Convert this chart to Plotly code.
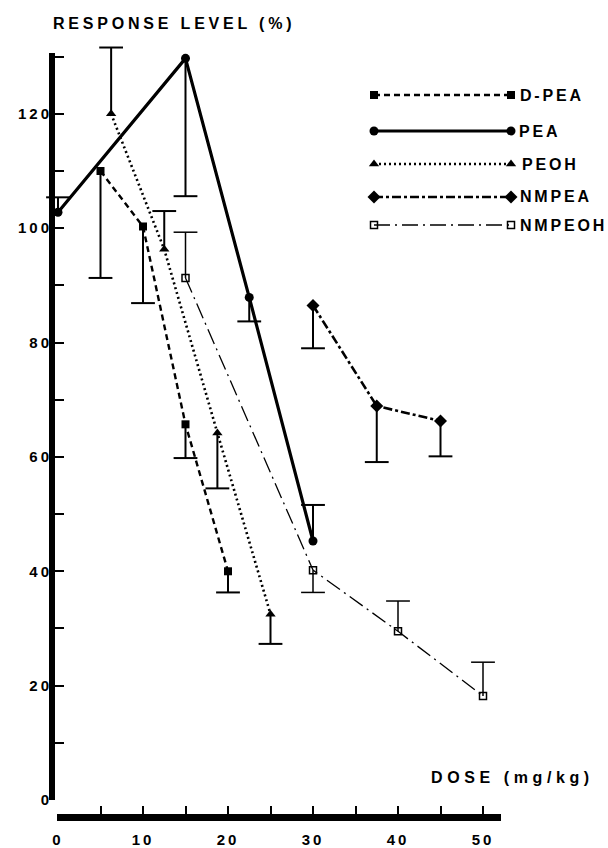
import plotly.graph_objects as go

# ---------------- data ----------------
series_names = ["D-PEA", "PEA", "PEOH", "NMPEA", "NMPEOH"]

dpea_dose = [5, 10, 15, 20]
dpea_resp = [110, 100.3, 65.7, 40]
dpea_err_up = [0, 0, 0, 0]
dpea_err_down = [18.7, 13.4, 5.9, 3.7]

pea_dose = [0, 15, 22.5, 30]
pea_resp = [102.8, 129.7, 87.9, 45.3]
pea_err_up = [2.6, 0, 0, 6.3]
pea_err_down = [0, 24.1, 4.2, 0]

peoh_dose = [6.25, 12.5, 18.75, 25]
peoh_resp = [120, 96.3, 64.2, 32.5]
peoh_err_up = [11.6, 6.7, 0, 0]
peoh_err_down = [0, 0, 9.7, 5.2]

nmpea_dose = [30, 37.5, 45]
nmpea_resp = [86.5, 68.9, 66.3]
nmpea_err_up = [0, 0, 0]
nmpea_err_down = [7.5, 9.8, 6.2]

nmpeoh_dose = [15, 30, 40, 50]
nmpeoh_resp = [91.3, 40.2, 29.5, 18.2]
nmpeoh_err_up = [8.0, 0, 5.3, 5.9]
nmpeoh_err_down = [0, 3.9, 0, 0]

x_tick_vals = [0, 10, 20, 30, 40, 50]
y_tick_vals = [0, 20, 40, 60, 80, 100, 120]

# ---------------- styles / layout constants ----------------
W, H = 608, 848
FONT = "Liberation Sans, Arial, sans-serif"
Y_PX_PER_UNIT = 5.718
Y0_PX = 800          # pixel row of response 0
Y_MAX = 132          # data range top (room for the tallest error cap)
YLINE_TOP_PX = 53    # the drawn axis bar stops here

def ls(txt, sp):
    return f'<span style="letter-spacing:{sp}px">{txt}</span>'

styles = {
    "D-PEA": dict(line=dict(color="black", width=2.4, dash="6px,4px"),
                  marker=dict(symbol="square", size=8, color="black")),
    "PEA": dict(line=dict(color="black", width=3.2),
                marker=dict(symbol="circle", size=9, color="black")),
    "PEOH": dict(line=dict(color="black", width=2.6, dash="2px,3px"),
                 marker=dict(symbol="triangle-up", size=9, color="black")),
    "NMPEA": dict(line=dict(color="black", width=2.6, dash="9px,3px,3px,3px"),
                  marker=dict(symbol="diamond", size=10, color="black")),
    "NMPEOH": dict(line=dict(color="black", width=1.3, dash="16px,5px,2px,5px"),
                   marker=dict(symbol="square-open", size=7, color="black",
                               line=dict(width=1.5, color="black"))),
}

data = {
    "D-PEA": (dpea_dose, dpea_resp, dpea_err_up, dpea_err_down),
    "PEA": (pea_dose, pea_resp, pea_err_up, pea_err_down),
    "PEOH": (peoh_dose, peoh_resp, peoh_err_up, peoh_err_down),
    "NMPEA": (nmpea_dose, nmpea_resp, nmpea_err_up, nmpea_err_down),
    "NMPEOH": (nmpeoh_dose, nmpeoh_resp, nmpeoh_err_up, nmpeoh_err_down),
}

fig = go.Figure()

# one-sided error bars: cap at far end, stem back to the point
for name in series_names:
    dose, resp, up, down = data[name]
    far = [r + u - d for r, u, d in zip(resp, up, down)]
    thick = 1.5 if name == "NMPEOH" else 2
    fig.add_trace(go.Scatter(
        x=dose, y=far, mode="markers", showlegend=False, hoverinfo="skip",
        cliponaxis=False,
        marker=dict(symbol="line-ew-open", size=17, color="black",
                    line=dict(width=thick, color="black")),
        error_y=dict(type="data", symmetric=False, array=down, arrayminus=up,
                     color="black", thickness=thick, width=0),
        xaxis="x", yaxis="y"))

# series lines + markers
for name in series_names:
    dose, resp, up, down = data[name]
    fig.add_trace(go.Scatter(
        x=dose, y=resp, mode="lines+markers", name=name, showlegend=False,
        cliponaxis=False,
        line=styles[name]["line"], marker=styles[name]["marker"],
        xaxis="x", yaxis="y"))

# empty trace so the axis-bar-only y axis (y3) gets drawn
fig.add_trace(go.Scatter(x=[], y=[], xaxis="x", yaxis="y3", showlegend=False,
                         hoverinfo="skip"))

# hand-drawn legend (markers at both ends of long samples)
leg_rows = [95, 131, 164, 197, 225]
leg_text_center = [552, 539, 550, 556, 563]
leg_x0, leg_x1 = 374, 511
for name, ry, cx in zip(series_names, leg_rows, leg_text_center):
    fig.add_trace(go.Scatter(
        x=[leg_x0, leg_x1], y=[ry, ry], mode="lines+markers", showlegend=False,
        hoverinfo="skip", line=styles[name]["line"], marker=styles[name]["marker"],
        xaxis="x2", yaxis="y2"))
    fig.add_annotation(x=cx / W, y=1 - ry / H, xref="paper", yref="paper",
                       text=ls(name, 2.8), showarrow=False, xanchor="center",
                       yanchor="middle",
                       font=dict(family=FONT, size=16, color="black", weight="bold"))

# axis titles
fig.add_annotation(x=174 / W, y=1 - 23 / H, xref="paper", yref="paper",
                   text=ls("RESPONSE LEVEL (%)", 3.8), showarrow=False,
                   xanchor="center", yanchor="middle",
                   font=dict(family=FONT, size=16, color="black", weight="bold"))
fig.add_annotation(x=512 / W, y=1 - 777 / H, xref="paper", yref="paper",
                   text=ls("DOSE (mg/kg)", 4.6), showarrow=False,
                   xanchor="center", yanchor="middle",
                   font=dict(family=FONT, size=16, color="black", weight="bold"))

tickfont = dict(family=FONT, size=15, color="black", weight="bold")
y_top_px = Y0_PX - Y_MAX * Y_PX_PER_UNIT

fig.update_layout(
    width=W, height=H,
    margin=dict(l=0, r=0, t=0, b=0),
    paper_bgcolor="white", plot_bgcolor="rgba(0,0,0,0)",
    showlegend=False,
    xaxis=dict(
        domain=[57 / W, 501 / W], anchor="free", position=1 - 817 / H,
        range=[-1 / 8.5, 443 / 8.5], showgrid=False, zeroline=False,
        showline=True, linecolor="black", linewidth=7,
        tickmode="array", tickvals=x_tick_vals,
        ticktext=[ls(str(v), 3) for v in x_tick_vals],
        ticks="inside", ticklen=8, tickwidth=1.5, tickcolor="black",
        minor=dict(dtick=5, tick0=0, ticks="inside", ticklen=8, tickwidth=1.5,
                   tickcolor="black", showgrid=False),
        tickfont=tickfont, ticklabelstandoff=6, automargin=False,
    ),
    yaxis=dict(
        domain=[1 - Y0_PX / H, 1 - y_top_px / H], anchor="free", position=52 / W,
        range=[0, Y_MAX], showgrid=False, zeroline=False,
        showline=False, linecolor="black", linewidth=6,
        tickmode="array", tickvals=y_tick_vals,
        ticktext=[ls(str(v), 3) for v in y_tick_vals],
        ticks="inside", ticklen=11, tickwidth=2, tickcolor="black",
        minor=dict(dtick=10, tick0=0, ticks="inside", ticklen=11, tickwidth=2,
                   tickcolor="black", showgrid=False),
        tickfont=tickfont, automargin=False,
    ),
    yaxis3=dict(
        domain=[1 - Y0_PX / H, 1 - YLINE_TOP_PX / H], anchor="free",
        position=52 / W, range=[0, 1], showgrid=False, zeroline=False,
        showline=True, linecolor="black", linewidth=6, ticks="",
        showticklabels=False, fixedrange=True,
    ),
    xaxis2=dict(domain=[0, 1], range=[0, W], anchor="y2", visible=False,
                fixedrange=True),
    yaxis2=dict(domain=[0, 1], range=[H, 0], anchor="x2", visible=False,
                fixedrange=True),
)

fig.write_html("out.html", config={"displayModeBar": False},
               post_script="document.body.style.margin='0';"
                           "document.body.style.padding='0';")
